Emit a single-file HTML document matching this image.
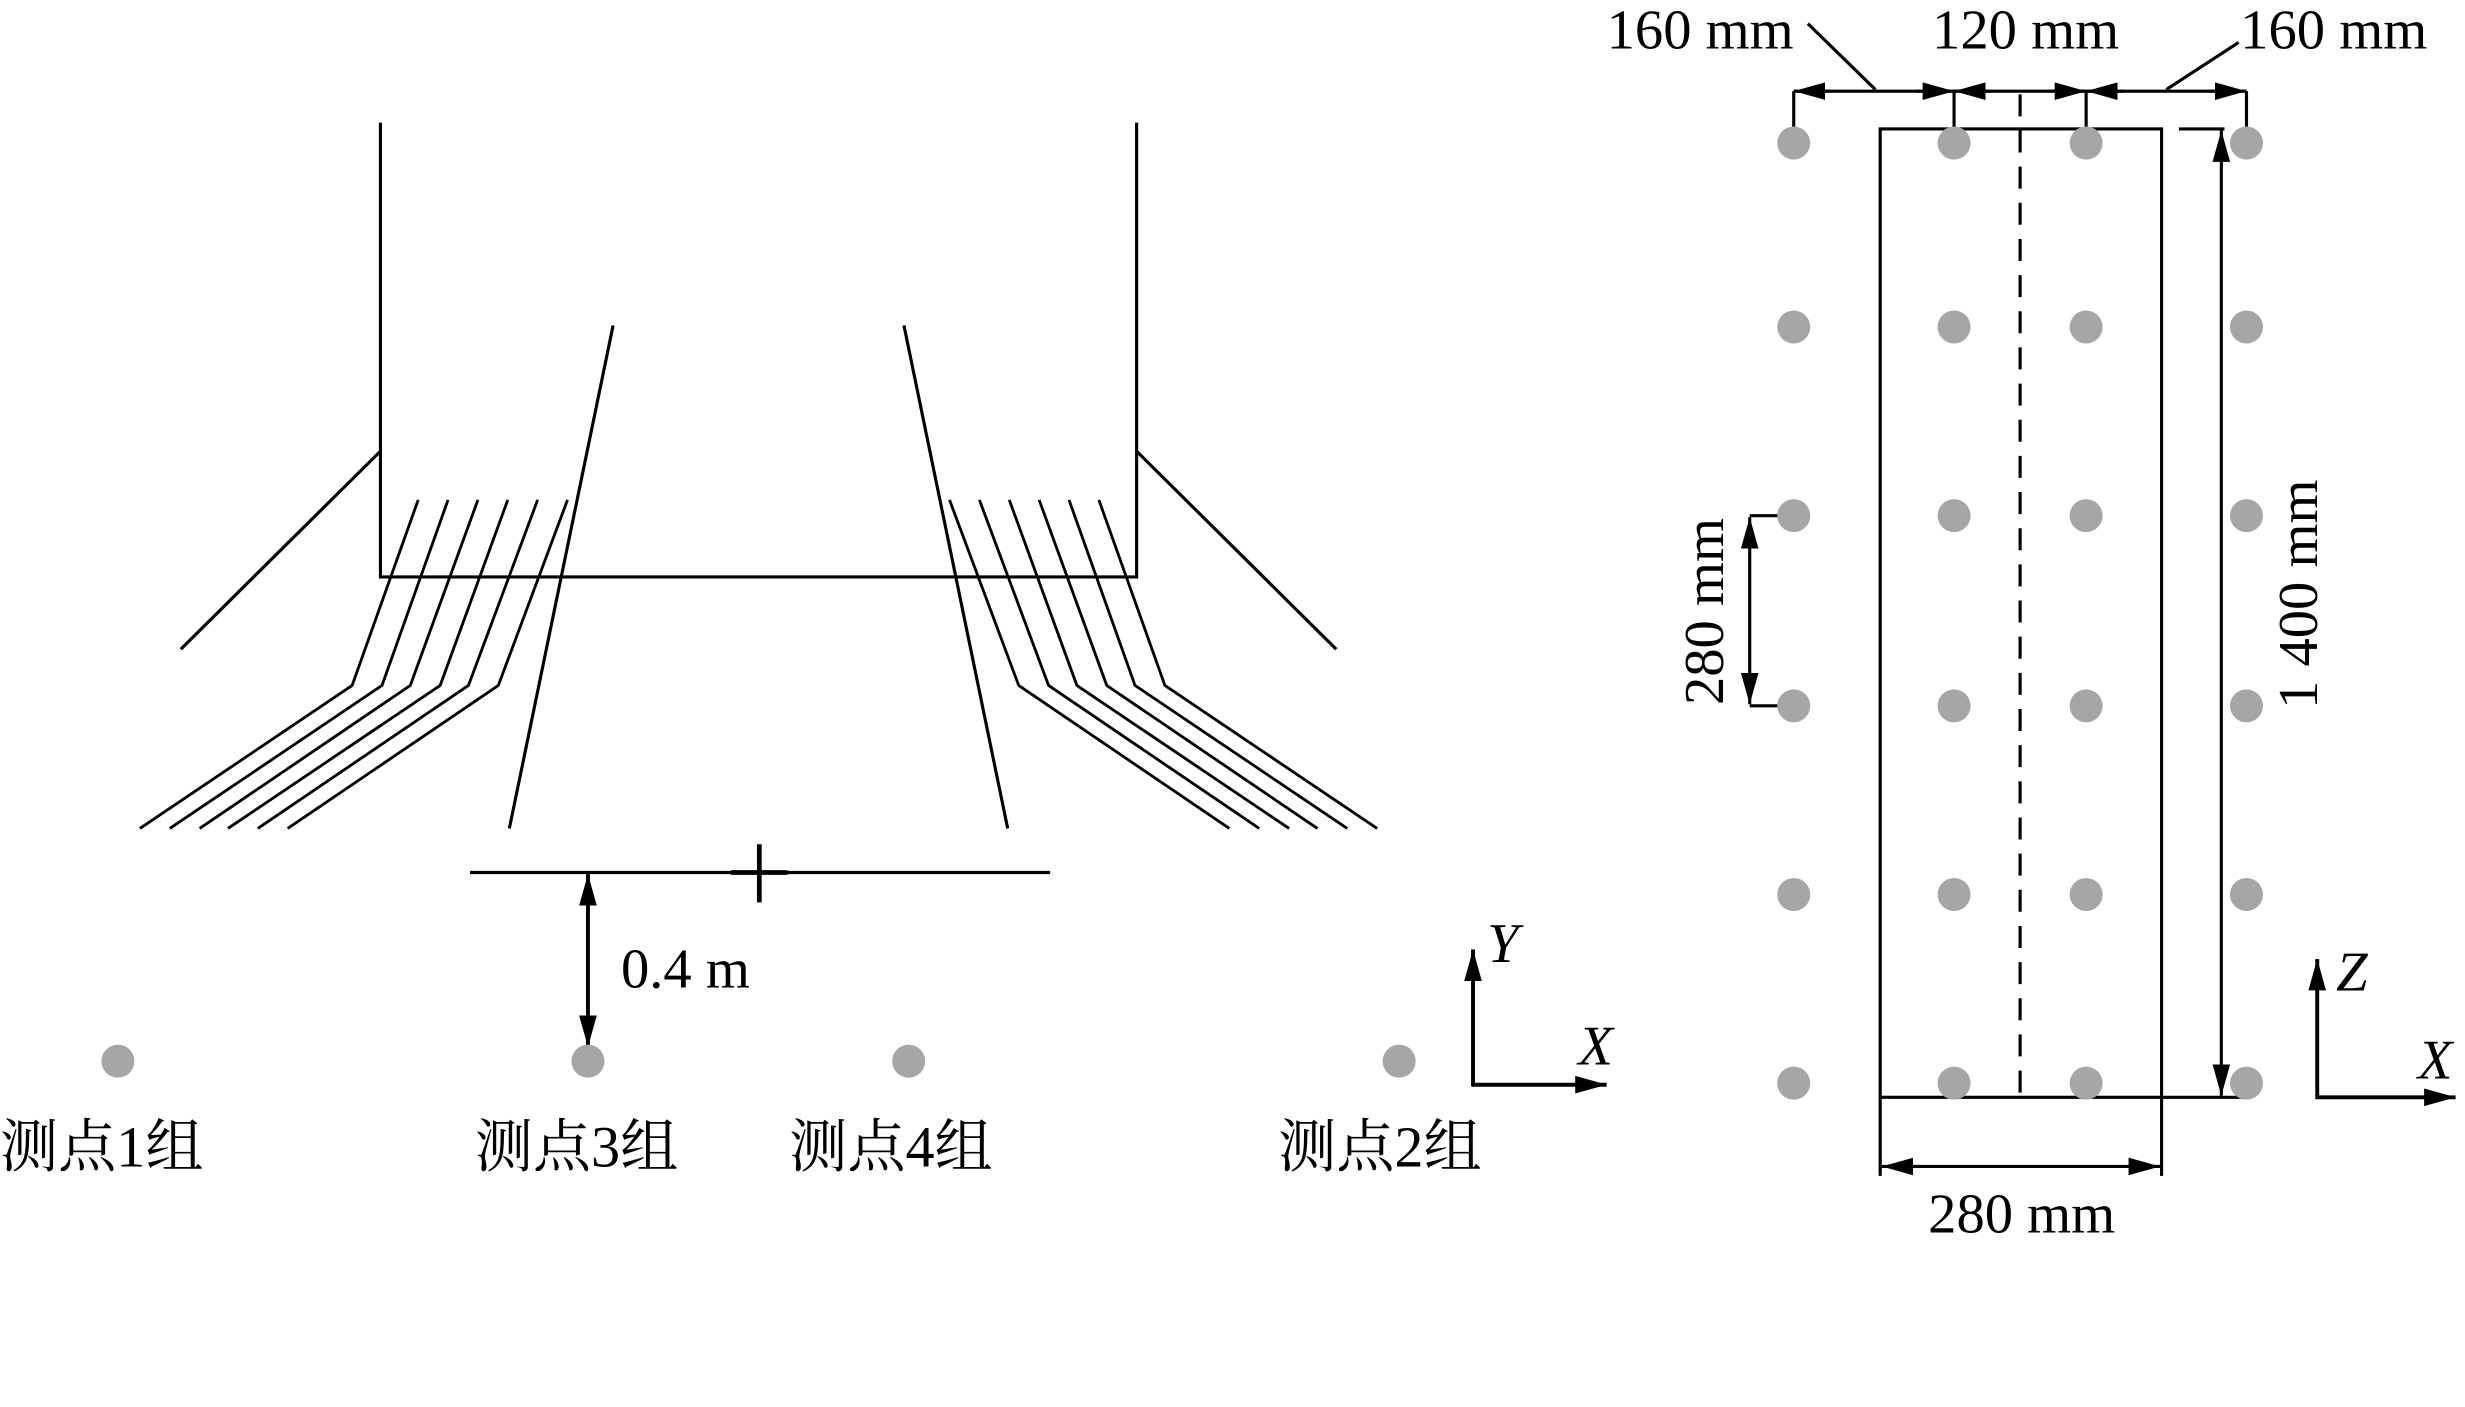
<!DOCTYPE html>
<html><head><meta charset="utf-8"><style>
html,body{margin:0;padding:0;background:#fff}
svg{display:block}
text{font-family:"Liberation Serif","Noto Serif CJK SC",serif;fill:#000}
</style></head><body>
<svg width="2465" height="1407" viewBox="0 0 1568 895" preserveAspectRatio="none" xmlns="http://www.w3.org/2000/svg">
<defs>
<marker id="b" viewBox="0 0 10 10" refX="10" refY="5" markerWidth="20" markerHeight="20" markerUnits="userSpaceOnUse" orient="auto-start-reverse"><path d="M0,2.2 L10,5 L0,7.8 z" fill="#000"/></marker>
<g id="row"><circle cx="1141" cy="0" r="10.5"/><circle cx="1243" cy="0" r="10.5"/><circle cx="1327" cy="0" r="10.5"/><circle cx="1429" cy="0" r="10.5"/></g>
</defs>
<g stroke="#000" stroke-width="2" fill="none">
<polyline points="242,78 242,367 723,367 723,78"/>
<line x1="242" y1="287" x2="115" y2="413"/>
<line x1="723" y1="287" x2="850" y2="413"/>
<line x1="390" y1="207" x2="324" y2="527"/>
<line x1="575" y1="207" x2="641" y2="527"/>
<g stroke-width="1.8">
<polyline points="266,318 224,436 89,527"/>
<polyline points="285,318 243,436 108,527"/>
<polyline points="304,318 261,436 127,527"/>
<polyline points="323,318 280,436 145,527"/>
<polyline points="342,318 298,436 164,527"/>
<polyline points="361,318 317,436 183,527"/>
<polyline points="699,318 741,436 876,527"/>
<polyline points="680,318 722,436 857,527"/>
<polyline points="661,318 704,436 838,527"/>
<polyline points="642,318 685,436 820,527"/>
<polyline points="623,318 667,436 801,527"/>
<polyline points="604,318 648,436 782,527"/>
</g>
<line x1="299" y1="555" x2="668" y2="555"/>
<line x1="483" y1="537" x2="483" y2="574" stroke-width="3"/>
<line x1="465" y1="555" x2="501" y2="555" stroke-width="3"/>
<line x1="374" y1="556" x2="374" y2="666" stroke-width="2.5" marker-start="url(#b)" marker-end="url(#b)"/>
<line x1="937" y1="691" x2="937" y2="604" stroke-width="2.5" marker-end="url(#b)"/>
<line x1="936" y1="690" x2="1022" y2="690" stroke-width="2.5" marker-end="url(#b)"/>
<line x1="1474" y1="699" x2="1474" y2="610" stroke-width="2.5" marker-end="url(#b)"/>
<line x1="1473" y1="698" x2="1562" y2="698" stroke-width="2.5" marker-end="url(#b)"/>
<rect x="1196" y="82" width="179" height="616"/>
<line x1="1285" y1="60" x2="1285" y2="698" stroke-dasharray="14,9"/>
<line x1="1141" y1="58" x2="1429" y2="58"/>
<line x1="1141" y1="58" x2="1141" y2="85"/>
<line x1="1243" y1="58" x2="1243" y2="85"/>
<line x1="1327" y1="58" x2="1327" y2="85"/>
<line x1="1429" y1="58" x2="1429" y2="82"/>
<line x1="1141" y1="58" x2="1165" y2="58" marker-start="url(#b)"/>
<line x1="1219" y1="58" x2="1243" y2="58" marker-end="url(#b)"/>
<line x1="1243" y1="58" x2="1267" y2="58" marker-start="url(#b)"/>
<line x1="1303" y1="58" x2="1327" y2="58" marker-end="url(#b)"/>
<line x1="1327" y1="58" x2="1351" y2="58" marker-start="url(#b)"/>
<line x1="1405" y1="58" x2="1429" y2="58" marker-end="url(#b)"/>
<line x1="1150" y1="15" x2="1193" y2="57"/>
<line x1="1424" y1="27" x2="1378" y2="57"/>
<line x1="1386" y1="82" x2="1415" y2="82"/>
<line x1="1375" y1="698" x2="1428" y2="698"/>
<line x1="1413" y1="83" x2="1413" y2="697" marker-start="url(#b)" marker-end="url(#b)"/>
<line x1="1113" y1="328" x2="1141" y2="328"/>
<line x1="1113" y1="449" x2="1141" y2="449"/>
<line x1="1113" y1="329" x2="1113" y2="448" marker-start="url(#b)" marker-end="url(#b)"/>
<line x1="1196" y1="698" x2="1196" y2="748"/>
<line x1="1375" y1="698" x2="1375" y2="748"/>
<line x1="1197" y1="742" x2="1374" y2="742" marker-start="url(#b)" marker-end="url(#b)"/>
</g>
<g fill="#a6a6a6">
<circle cx="75" cy="675" r="10.5"/><circle cx="374" cy="675" r="10.5"/><circle cx="578" cy="675" r="10.5"/><circle cx="890" cy="675" r="10.5"/>
<use href="#row" y="91"/><use href="#row" y="208"/><use href="#row" y="328"/><use href="#row" y="449"/><use href="#row" y="569"/><use href="#row" y="689"/>
</g>
<g font-size="36">
<text x="395" y="628">0.4 m</text>
<text x="0" y="742" font-size="37">测点1组</text>
<text x="302" y="742" font-size="37">测点3组</text>
<text x="502" y="742" font-size="37">测点4组</text>
<text x="813" y="742" font-size="37">测点2组</text>
<text x="946" y="612" font-style="italic">Y</text>
<text x="1004" y="677" font-style="italic">X</text>
<text x="1486" y="630" font-style="italic">Z</text>
<text x="1538" y="686" font-style="italic">X</text>
<text x="1022" y="31">160 mm</text>
<text x="1229" y="31">120 mm</text>
<text x="1425" y="31">160 mm</text>
<text x="1286" y="784" text-anchor="middle">280 mm</text>
<text transform="translate(1474,378) rotate(-90)" text-anchor="middle">1 400 mm</text>
<text transform="translate(1096,389) rotate(-90)" text-anchor="middle">280 mm</text>
</g>
</svg>
</body></html>
